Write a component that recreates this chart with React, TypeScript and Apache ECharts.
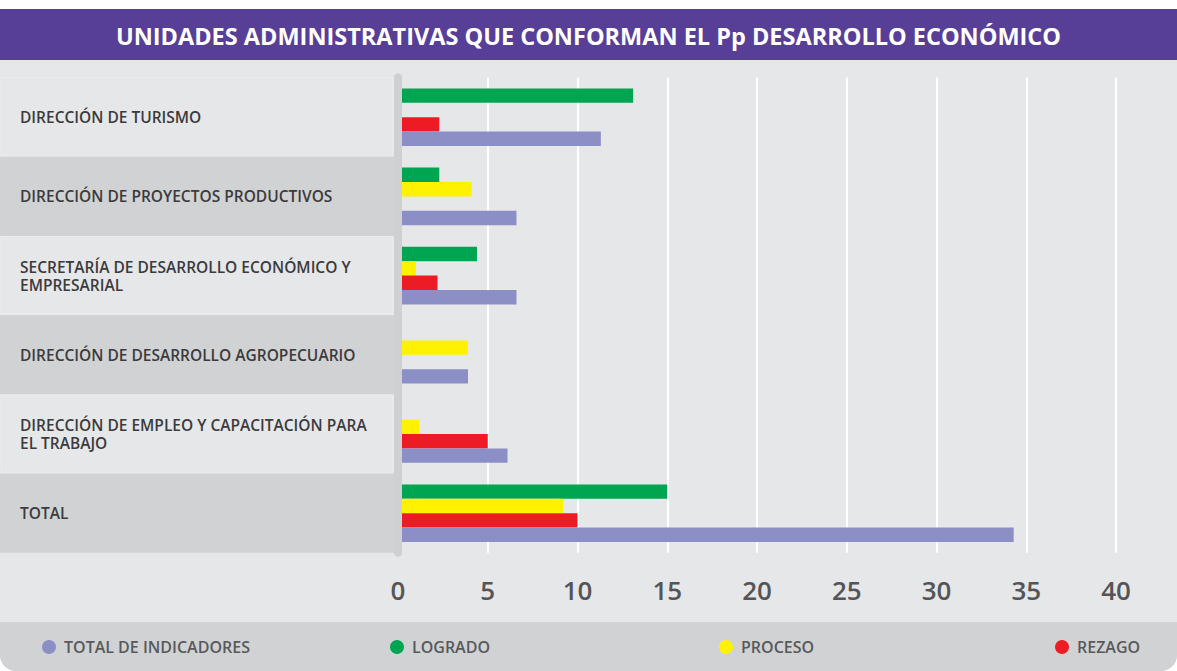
import React, { useEffect, useRef } from "react";
import * as echarts from "echarts";

const categories = [
  "DIRECCIÓN DE TURISMO",
  "DIRECCIÓN DE PROYECTOS PRODUCTIVOS",
  "SECRETARÍA DE DESARROLLO ECONÓMICO Y\nEMPRESARIAL",
  "DIRECCIÓN DE DESARROLLO AGROPECUARIO",
  "DIRECCIÓN DE EMPLEO Y CAPACITACIÓN PARA\nEL TRABAJO",
  "TOTAL",
];
const logrado = [13.1, 2.3, 4.4, 0, 0, 15];
const proceso = [0, 4.1, 1.0, 3.9, 1.2, 9.2];
const rezago = [2.3, 0, 2.2, 0, 5.0, 10];
const totalIndicadores = [11.3, 6.6, 6.6, 3.9, 6.1, 34.3];
const xTicks = [0, 5, 10, 15, 20, 25, 30, 35, 40];

const TITLE = "UNIDADES ADMINISTRATIVAS QUE CONFORMAN EL Pp DESARROLLO ECONÓMICO";
const FONT = "'Open Sans', 'Noto Sans', sans-serif";

const W = 1177;
const H = 671;
const GRID_LEFT = 398;
const GRID_TOP = 77.6;
const GRID_BOTTOM_Y = 552.8;
const ROW_H = (GRID_BOTTOM_Y - GRID_TOP) / categories.length;

export default function App() {
  const ref = useRef<HTMLDivElement>(null);
  useEffect(() => {
    document.body.style.margin = "0";
    const chart = echarts.init(ref.current!, undefined, { renderer: "svg" });

    const rowRects: any[] = categories.map((_, i) => {
      const dark = i % 2 === 1;
      return {
        type: "rect",
        z: -5,
        shape: {
          x: 0,
          y: GRID_TOP + i * ROW_H + (dark ? 0 : 0.5),
          width: dark ? GRID_LEFT : GRID_LEFT - 5,
          height: dark ? ROW_H : ROW_H - 2,
        },
        style: dark
          ? { fill: "#d1d2d4" }
          : { fill: "#e6e7e9", stroke: "#ebecee", lineWidth: 1 },
        silent: true,
      };
    });

    const names = ["TOTAL DE INDICADORES", "LOGRADO", "PROCESO", "REZAGO"];
    const legendLefts = [37, 385, 714, 1050];

    chart.setOption({
      animation: false,
      backgroundColor: "#ffffff",
      title: {
        text: TITLE,
        left: "center",
        top: 19,
        textStyle: {
          color: "#ffffff",
          fontSize: 23.5,
          fontWeight: "bold",
          fontFamily: FONT,
        },
      },
      graphic: [
        {
          type: "rect",
          z: -10,
          shape: { x: 0, y: 60, width: W, height: H - 60, r: [0, 0, 16, 16] },
          style: { fill: "#e6e7e9" },
          silent: true,
        },
        {
          type: "rect",
          z: -9,
          shape: { x: 0, y: 9, width: W, height: 51 },
          style: { fill: "#573e97" },
          silent: true,
        },
        {
          type: "rect",
          z: -9,
          shape: { x: 0, y: 622, width: W, height: 49, r: [0, 0, 16, 16] },
          style: { fill: "#d1d2d4" },
          silent: true,
        },
        ...rowRects,
      ],
      legend: names.map((n, i) => ({
        data: [n],
        left: legendLefts[i],
        top: 634,
        icon: "circle",
        itemWidth: 14,
        itemHeight: 14,
        selectedMode: false,
        textStyle: {
          color: "#58595b",
          fontSize: 16,
          fontWeight: 600,
          fontFamily: FONT,
          padding: [0, 0, 0, 3],
        },
      })),
      grid: {
        left: GRID_LEFT,
        right: W - 1116,
        top: GRID_TOP,
        bottom: H - GRID_BOTTOM_Y,
        containLabel: false,
      },
      xAxis: {
        type: "value",
        min: xTicks[0],
        max: xTicks[xTicks.length - 1],
        interval: 5,
        axisLine: { show: false },
        axisTick: { show: false },
        splitLine: { show: true, lineStyle: { color: "#ffffff", width: 2 } },
        axisLabel: {
          margin: 24,
          color: "#555558",
          fontSize: 26,
          fontWeight: 600,
          fontFamily: FONT,
        },
      },
      yAxis: {
        type: "category",
        data: categories,
        inverse: true,
        z: 5,
        axisLine: { show: true, lineStyle: { color: "#cfd0d2", width: 8 } },
        axisTick: { show: false },
        splitLine: { show: false },
        axisLabel: {
          align: "left",
          margin: GRID_LEFT - 20,
          color: "#3b3b3d",
          fontSize: 15.5,
          fontWeight: 600,
          lineHeight: 18,
          fontFamily: FONT,
        },
      },
      series: [
        { name: "LOGRADO", data: logrado, color: "#00a551" },
        { name: "PROCESO", data: proceso, color: "#fff200" },
        { name: "REZAGO", data: rezago, color: "#ed1c24" },
        { name: "TOTAL DE INDICADORES", data: totalIndicadores, color: "#8b8fc6" },
      ].map((s) => ({
        type: "bar",
        name: s.name,
        data: s.data,
        barWidth: 14.4,
        barGap: "0%",
        itemStyle: { color: s.color },
        silent: true,
      })),
    });
    return () => chart.dispose();
  }, []);
  return (
    <div
      ref={ref}
      style={{ position: "fixed", left: 0, top: 0, width: W, height: H }}
    />
  );
}
